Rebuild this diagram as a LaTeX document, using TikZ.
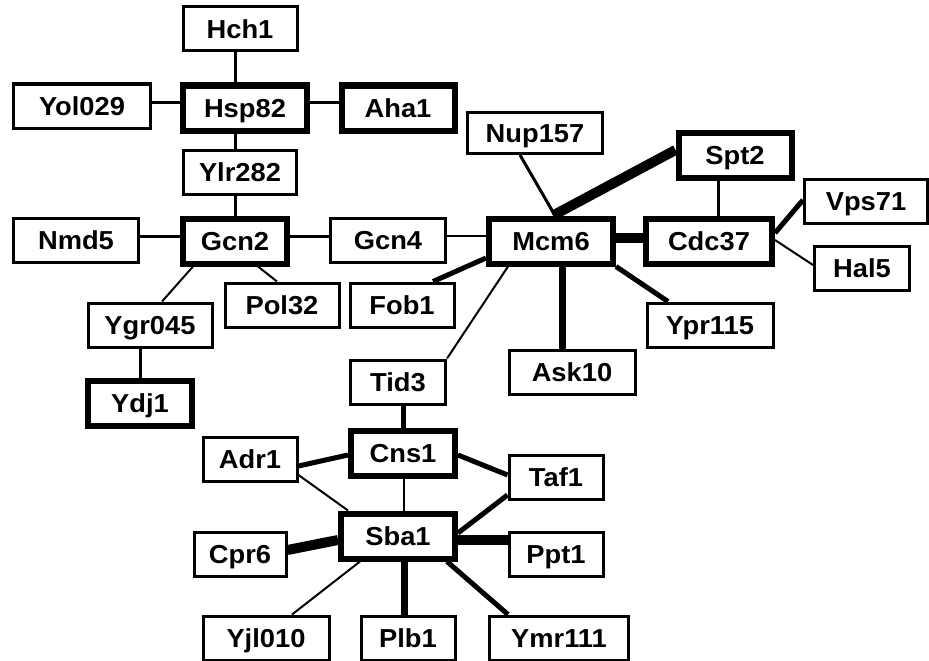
\documentclass[tikz,border=0pt]{standalone}
\usepackage{fontspec}
\setmainfont[FakeStretch=1.05]{Liberation Sans}
\usetikzlibrary{backgrounds}

\tikzset{
  prot/.style={draw, line width=3pt, minimum height=44pt, inner sep=0pt,
    text height=18.6pt, text depth=0pt,
    font=\fontsize{26}{30}\selectfont\bfseries},
  hub/.style={prot, line width=6pt, minimum height=45pt},
  w2/.style={line width=2pt},
  w3/.style={line width=3pt},
  w5/.style={line width=5pt},
  w7/.style={line width=7pt},
  w10/.style={line width=10pt}
}

\begin{document}
\begin{tikzpicture}[x=1pt, y=-1pt]
  \useasboundingbox (0,0) rectangle (929,661);

  \node[prot, minimum width=114pt] (Hch1) at (240,29) {Hch1};
  \node[prot, minimum width=137pt] (Yol029) at (82,106) {Yol029};
  \node[hub, minimum width=124pt] (Hsp82) at (245,108) {Hsp82};
  \node[hub, minimum width=113pt] (Aha1) at (398,108) {Aha1};
  \node[prot, minimum width=113pt] (Ylr282) at (240,172) {Ylr282};
  \node[prot, minimum width=125pt] (Nmd5) at (76,240) {Nmd5};
  \node[hub, minimum width=104pt] (Gcn2) at (235,241) {Gcn2};
  \node[prot, minimum width=115pt] (Gcn4) at (388,240) {Gcn4};
  \node[prot, minimum width=114pt] (Pol32) at (282,305) {Pol32};
  \node[prot, minimum width=104pt] (Fob1) at (402,305) {Fob1};
  \node[prot, minimum width=124pt] (Ygr045) at (150,325) {Ygr045};
  \node[hub, minimum width=104pt] (Ydj1) at (140,403) {Ydj1};
  \node[prot, minimum width=135pt, minimum height=41pt] (Nup157) at (535,133) {Nup157};
  \node[hub, minimum width=113pt] (Spt2) at (735,155) {Spt2};
  \node[prot, minimum width=123pt] (Vps71) at (866,201) {Vps71};
  \node[hub, minimum width=124pt] (Mcm6) at (551,241) {Mcm6};
  \node[hub, minimum width=126pt] (Cdc37) at (709,241) {Cdc37};
  \node[prot, minimum width=95pt] (Hal5) at (862,268) {Hal5};
  \node[prot, minimum width=126pt] (Ypr115) at (710,325) {Ypr115};
  \node[prot, minimum width=126pt] (Ask10) at (572,372) {Ask10};
  \node[prot, minimum width=95pt] (Tid3) at (398,382) {Tid3};
  \node[hub, minimum width=104pt] (Cns1) at (403,453) {Cns1};
  \node[prot, minimum width=94pt] (Adr1) at (250,459) {Adr1};
  \node[prot, minimum width=94pt] (Taf1) at (556,477) {Taf1};
  \node[hub, minimum width=114pt] (Sba1) at (398,536) {Sba1};
  \node[prot, minimum width=92pt] (Cpr6) at (240,554) {Cpr6};
  \node[prot, minimum width=94pt] (Ppt1) at (556,554) {Ppt1};
  \node[prot, minimum width=126pt] (Yjl010) at (266,638) {Yjl010};
  \node[prot, minimum width=94pt] (Plb1) at (408,638) {Plb1};
  \node[prot, minimum width=139pt] (Ymr111) at (559,638) {Ymr111};

  \begin{scope}[on background layer]
  \draw[w3] ([xshift=-5pt]Hch1.south) -- ([xshift=-10pt]Hsp82.north);
  \draw[w3] ([yshift=4pt]Yol029.east) -- ([yshift=6pt]Hsp82.west);
  \draw[w3] ([yshift=6pt]Hsp82.east) -- ([yshift=6pt]Aha1.west);
  \draw[w3] ([xshift=-10pt]Hsp82.south) -- ([xshift=-5pt]Ylr282.north);
  \draw[w3] ([xshift=-5pt]Ylr282.south) -- (Gcn2.north);
  \draw[w3] ([yshift=4pt]Nmd5.east) -- ([yshift=5pt]Gcn2.west);
  \draw[w3] ([yshift=5pt]Gcn2.east) -- ([yshift=4pt]Gcn4.west);
  \draw[w2] ([yshift=4pt]Gcn4.east) -- ([yshift=5pt]Mcm6.west);
  \draw[w2] ([xshift=-42pt]Gcn2.south) -- ([xshift=12pt]Ygr045.north);
  \draw[w2] ([xshift=23pt]Gcn2.south) -- ([xshift=-5pt]Pol32.north);
  \draw[w3] ([xshift=-10pt]Ygr045.south) -- (Ydj1.north);
  \draw[w5] ([xshift=31pt]Fob1.north) -- ([yshift=-17pt]Mcm6.west);
  \draw[w3] ([xshift=-15pt]Nup157.south) -- ([xshift=4pt]Mcm6.north);
  \draw[w10] ([yshift=5pt]Spt2.west) -- ([xshift=2pt]Mcm6.north);
  \draw[w10] ([yshift=3pt]Mcm6.east) -- ([yshift=3pt]Cdc37.west);
  \draw[w3] ([xshift=-17pt]Spt2.south) -- ([xshift=9pt]Cdc37.north);
  \draw[w5] ([yshift=8pt]Cdc37.east) -- ([yshift=1pt]Vps71.west);
  \draw[w2] ([yshift=1pt]Cdc37.east) -- ([yshift=3pt]Hal5.west);
  \draw[w5] (Mcm6.south east) -- ([xshift=-42pt]Ypr115.north);
  \draw[w7] ([xshift=11pt]Mcm6.south) -- ([xshift=-10pt]Ask10.north);
  \draw[w2] ([xshift=-43pt]Mcm6.south) -- (Tid3.north east);
  \draw[w5] ([xshift=5pt]Tid3.south) -- (Cns1.north);
  \draw[w5] ([yshift=-7pt]Adr1.east) -- ([yshift=-2pt]Cns1.west);
  \draw[w5] ([yshift=-2pt]Cns1.east) -- ([yshift=2pt]Taf1.west);
  \draw[w2] ([yshift=-16pt]Adr1.east) -- ([xshift=-50pt]Sba1.north);
  \draw[w2] ([xshift=1pt]Cns1.south) -- ([xshift=6pt]Sba1.north);
  \draw[w5] ([yshift=-18pt]Taf1.west) -- ([yshift=3pt]Sba1.east);
  \draw[w10] ([yshift=4pt]Cpr6.east) -- ([yshift=-4pt]Sba1.west);
  \draw[w10] ([yshift=-4pt]Sba1.east) -- ([yshift=14pt]Ppt1.west);
  \draw[w2] ([xshift=-38pt]Sba1.south) -- ([xshift=26pt]Yjl010.north);
  \draw[w7] ([xshift=6pt]Sba1.south) -- ([xshift=-4pt]Plb1.north);
  \draw[w5] ([xshift=49pt]Sba1.south) -- ([xshift=-51pt]Ymr111.north);
  \end{scope}
\end{tikzpicture}
\end{document}
